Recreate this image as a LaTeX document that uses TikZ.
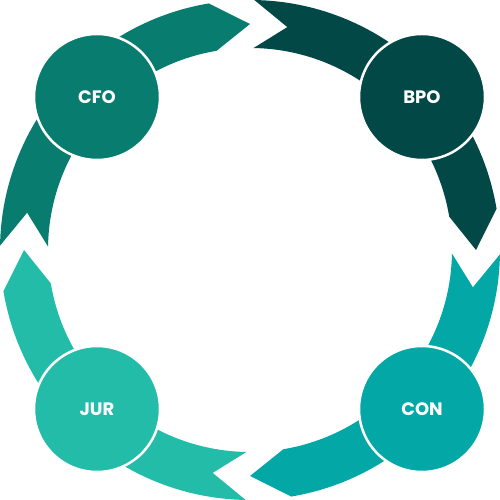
\documentclass[tikz,border=0pt]{standalone}
\usepackage{fontspec}
\setmainfont{Poppins}
\usepackage{tikz}
\definecolor{cfogreen}{HTML}{087D6F}
\definecolor{bpogreen}{HTML}{024847}
\definecolor{conteal}{HTML}{03A8A6}
\definecolor{jurteal}{HTML}{23BCA9}
\tikzset{
  unit/.style={circle, draw=white, line width=2.5pt, minimum size=126pt,
    inner sep=0pt, text=white, font=\bfseries\fontsize{18}{18}\selectfont}
}

\begin{document}
\begin{tikzpicture}[x=1pt,y=1pt]
  \useasboundingbox (0,0) rectangle (500,500);
  % ring of four arrows, running clockwise
  \begin{scope}[shift={(250,250)}]
    \foreach \a/\c in {180/cfogreen, 90/bpogreen, 0/conteal, -90/jurteal}{
      \fill[\c] ({\a-1}:250) arc[start angle=\a-1, end angle=\a-80.5, radius=250]
        -- ({\a-90}:226) -- ({\a-80.5}:202)
        arc[start angle=\a-80.5, end angle=\a-1, radius=202]
        -- ({\a-9.5}:226) -- cycle;
    }
  \end{scope}
  % the four units
  \node[unit, fill=cfogreen] (cfo) at (97,403) {CFO};
  \node[unit, fill=bpogreen] (bpo) at (422,403) {BPO};
  \node[unit, fill=conteal] (con) at (422,91) {CON};
  \node[unit, fill=jurteal] (jur) at (97,91) {JUR};
\end{tikzpicture}
\end{document}
